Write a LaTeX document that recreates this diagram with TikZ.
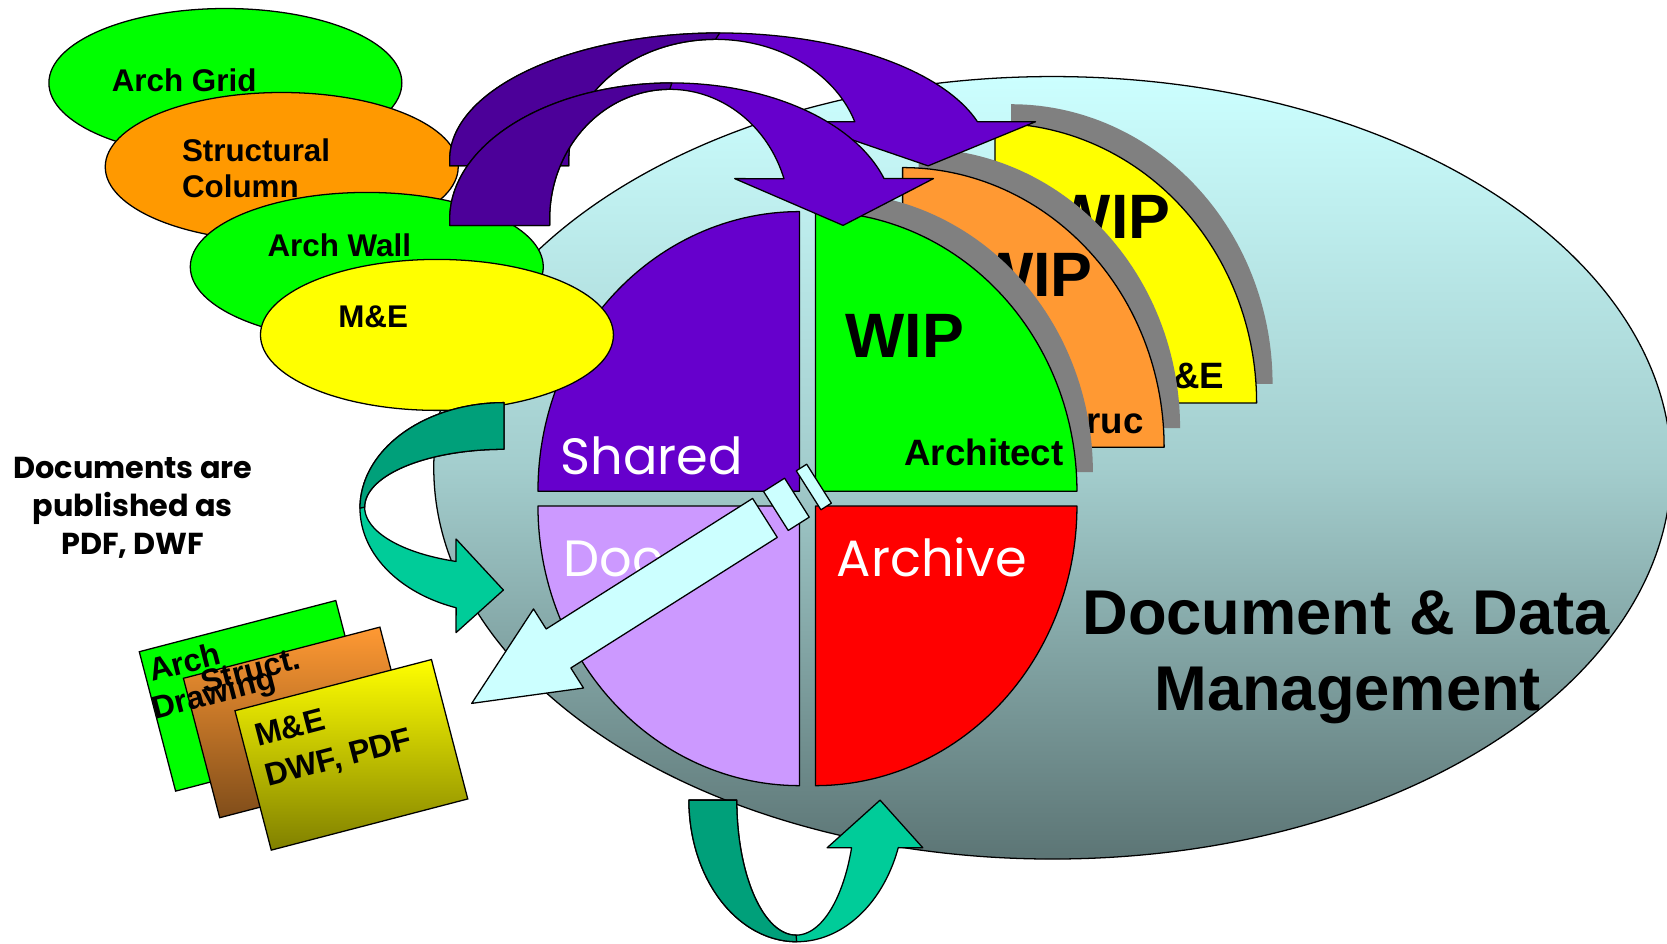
\documentclass[tikz,border=0pt]{standalone}
\usepackage{fontspec}
\setmainfont{Liberation Sans}
\newfontfamily\popfont{Poppins}
\usetikzlibrary{shapes.geometric}
\definecolor{cgreen}{RGB}{0,255,0}
\definecolor{corange}{RGB}{255,153,0}
\definecolor{cyellow}{RGB}{255,255,0}
\definecolor{cpurple}{RGB}{102,0,204}
\definecolor{cpurpledk}{RGB}{76,0,153}
\definecolor{clav}{RGB}{204,153,255}
\definecolor{cred}{RGB}{255,0,0}
\definecolor{corangeq}{RGB}{255,153,51}
\definecolor{cgray}{RGB}{128,128,128}
\definecolor{ctealdk}{RGB}{0,160,122}
\definecolor{ctealt}{RGB}{0,204,153}
\definecolor{clcyan}{RGB}{204,255,255}
\definecolor{ellTop}{RGB}{204,255,255}
\definecolor{ellMid}{RGB}{163,205,205}
\definecolor{ellBot}{RGB}{92,117,117}
\definecolor{cbrown}{RGB}{128,77,26}
\definecolor{colive}{RGB}{128,128,0}
\tikzset{
  ol/.style={draw=black, line width=1.2pt, line join=round},
  ellnode/.style={ellipse, draw=black, line width=1.2pt, inner sep=0pt, minimum width=332pt, minimum height=140pt},
  tl/.style={font=\fontsize{29.5}{34}\selectfont\bfseries, inner sep=0pt, anchor=base west},
  quartertxt/.style={font=\popfont\fontsize{48}{56}\selectfont, text=white, inner sep=0pt, anchor=base west},
  wiptxt/.style={font=\fontsize{59}{66}\selectfont\bfseries, inner sep=0pt},
  subtxt/.style={font=\fontsize{34.5}{40}\selectfont\bfseries, inner sep=0pt, anchor=base east},
  cardtxt/.style={font=\fontsize{30}{36}\selectfont\bfseries, inner sep=0pt, anchor=base west, rotate=14.6},
  card/.style={rectangle, draw=black, line width=1.2pt, inner sep=0pt, minimum width=191pt, minimum height=135.5pt, rotate=14.6},
  pubtxt/.style={font=\popfont\fontsize{28.5}{32}\selectfont\bfseries, inner sep=0pt, anchor=base},
  bigtxt/.style={font=\fontsize{59.5}{66}\selectfont\bfseries, inner sep=0pt, anchor=base},
}
\begin{document}
\begin{tikzpicture}[x=1pt,y=-1pt]
\fill[white] (0,0) rectangle (1568,887);
\useasboundingbox (0,0) rectangle (1568,887);

% big ellipse
\node[ellipse, draw=black, line width=1.2pt, inner sep=0pt, minimum width=1164pt, minimum height=736pt,
      top color=ellTop, bottom color=ellBot, middle color=ellMid] (ddm) at (990,440) {};
\node[bigtxt] (ddm1) at (1266,597) {Document \& Data};
\node[bigtxt] (ddm2) at (1267.6,668.5) {Management};

% pie quarters
\path[ol, fill=cpurple] (752,462) -- plot[domain=180:270, samples=60] ({752+246*cos(\x)},{462+263*sin(\x)}) -- cycle;
\path[ol, fill=clav] (752,476) -- plot[domain=90:180, samples=60] ({752+246*cos(\x)},{476+263*sin(\x)}) -- cycle;
\path[ol, fill=cred] (767,476) -- plot[domain=0:90, samples=60] ({767+246*cos(\x)},{476+263*sin(\x)}) -- cycle;
\node[quartertxt] (tshared) at (527,446) {Shared};
\node[quartertxt] (tdoc) at (530,542.5) {Doc};
\node[quartertxt] (tarch) at (787,542.5) {Archive};

% WIP stack: yellow
\path[fill=cgray] (951,361) -- plot[domain=270:360, samples=60] ({951+246*cos(\x)},{361+263*sin(\x)}) -- cycle;
\path[ol, fill=cyellow] (936,379) -- plot[domain=270:360, samples=60] ({936+246*cos(\x)},{379+263*sin(\x)}) -- cycle;
\node[wiptxt, anchor=base east] (wipy) at (1101,224) {WIP};
\node[subtxt] (mey) at (1151.5,365) {M\&E};
% orange
\path[fill=cgray] (864,402.6) -- plot[domain=270:360, samples=60] ({864+246*cos(\x)},{402.6+263*sin(\x)}) -- cycle;
\path[ol, fill=corangeq] (849,420.6) -- plot[domain=270:360, samples=60] ({849+246*cos(\x)},{420.6+263*sin(\x)}) -- cycle;
\node[wiptxt, anchor=base east] (wipo) at (1028,279) {WIP};
\node[subtxt] (sto) at (1076,407.6) {Struc};
% green
\path[fill=cgray] (782,444) -- plot[domain=270:360, samples=60] ({782+246*cos(\x)},{444+263*sin(\x)}) -- cycle;
\path[ol, fill=cgreen] (767,462) -- plot[domain=270:360, samples=60] ({767+246*cos(\x)},{462+263*sin(\x)}) -- cycle;
\node[wiptxt, anchor=base west] (wipg) at (795,336) {WIP};
\node[subtxt] (arg) at (1000.5,437.5) {Architect};

% top-left ellipses
\node[ellnode, fill=cgreen] (ag) at (212,78) {};
\node[tl] (tag) at (105,86) {Arch Grid};
\node[ellnode, fill=corange] (sc) at (265,157) {};
\node[tl] (tsc1) at (171,151.5) {Structural};
\node[tl] (tsc2) at (171,185.6) {Column};
\node[ellnode, fill=cgreen] (aw) at (345,251) {};
\node[tl] (taw) at (251.5,241.4) {Arch Wall};
\node[ellnode, fill=cyellow, minimum height=142pt] (me) at (411,315) {};
\node[tl] (tme) at (318,307.9) {M\&E};

% purple curved arrows
\path[ol, fill=cpurple] (423,156) -- (423,150) -- plot[domain=180:342.6, samples=90] ({677+254*cos(\x)},{150+119*sin(\x)}) -- (974,114.5) -- (873,156) -- (752,114.5) -- plot[domain=341.7:180, samples=90] ({673+138*cos(\x)},{150+113*sin(\x)}) -- (535,156) -- cycle;
\path[ol, fill=cpurpledk] (423,156) -- (423,150) -- plot[domain=180:270, samples=60] ({677+254*cos(\x)},{150+119*sin(\x)}) -- plot[domain=270:180, samples=60] ({673+138*cos(\x)},{150+113*sin(\x)}) -- (535,156) -- cycle;
\path[ol, fill=cpurple] (423,212) -- (423,206) -- plot[domain=180:342.7, samples=90] ({632+209*cos(\x)},{206+128*sin(\x)}) -- (878,168) -- (793,212) -- (691,168) -- plot[domain=341.9:180, samples=90] ({630+113*cos(\x)},{206+122*sin(\x)}) -- (517,212) -- cycle;
\path[ol, fill=cpurpledk] (423,212) -- (423,206) -- plot[domain=180:270, samples=60] ({632+209*cos(\x)},{206+128*sin(\x)}) -- plot[domain=270:180, samples=60] ({630+113*cos(\x)},{206+122*sin(\x)}) -- (517,212) -- cycle;

% left teal curved arrow
\path[ol, fill=ctealt] (474,378.7) -- plot[domain=270:109.4, samples=90] ({474+135.4*cos(\x)},{478+99.3*sin(\x)}) -- (429,595) -- (473.5,555) -- (429,507) -- plot[domain=110.1:270, samples=90] ({474+131*cos(\x)},{477+54.4*sin(\x)}) -- cycle;
\path[ol, fill=ctealdk] (474,378.7) -- plot[domain=270:180, samples=60] ({474+135.4*cos(\x)},{478+99.3*sin(\x)}) -- plot[domain=180:270, samples=60] ({474+131*cos(\x)},{477+54.4*sin(\x)}) -- cycle;

% bottom teal curved arrow
\path[ol, fill=ctealt] (648,752.6) -- plot[domain=180:19.6, samples=90] ({749.4+101.4*cos(\x)},{752.6+133.2*sin(\x)}) -- (868,797.4) -- (827.8,752.6) -- (778,797.4) -- plot[domain=20.7:180, samples=90] ({748.8+55.8*cos(\x)},{752.6+127*sin(\x)}) -- cycle;
\path[ol, fill=ctealdk] (648,752.6) -- plot[domain=180:90, samples=60] ({749.4+101.4*cos(\x)},{752.6+133.2*sin(\x)}) -- plot[domain=90:180, samples=60] ({748.8+55.8*cos(\x)},{752.6+127*sin(\x)}) -- cycle;

% light cyan striped arrow
\begin{scope}[shift={(443.7,661.6)}, x={(0.845pt,0.5345pt)}, y={(0.5345pt,-0.845pt)}]
  \path[ol, fill=clcyan] (0,0) -- (96.6,-44) -- (96.6,-21.7) -- (326.4,-21.7) -- (326.4,21.7) -- (96.6,21.7) -- (96.6,44) -- cycle;
  \path[ol, fill=clcyan] (338.6,-21.7) -- (362,-21.7) -- (362,21.7) -- (338.6,21.7) -- cycle;
  \path[ol, fill=clcyan] (375,-21.7) -- (386.6,-21.7) -- (386.6,21.7) -- (375,21.7) -- cycle;
\end{scope}

% published text
\node[pubtxt] (pub1) at (125,450) {Documents are};
\node[pubtxt] (pub2) at (125,486) {published as};
\node[pubtxt] (pub3) at (125,522) {PDF, DWF};

% document cards
\node[card, fill=cgreen] (cardA) at (240.5,654.5) {};
\node[card, top color=corangeq, bottom color=cbrown] (cardS) at (282,679.5) {};
\node[cardtxt] (ca1) at (143,641.5) {Arch};
\node[cardtxt] (ca2) at (146,677) {Drawing};
\node[cardtxt] (cs1) at (192,652.2) {Struct.};
\node[card, top color=cyellow, bottom color=colive] (cardM) at (330.5,710) {};
\node[cardtxt] (cm1) at (242.5,702.5) {M\&E};
\node[cardtxt] (cm2) at (252,740) {DWF, PDF};
\end{tikzpicture}
\end{document}
